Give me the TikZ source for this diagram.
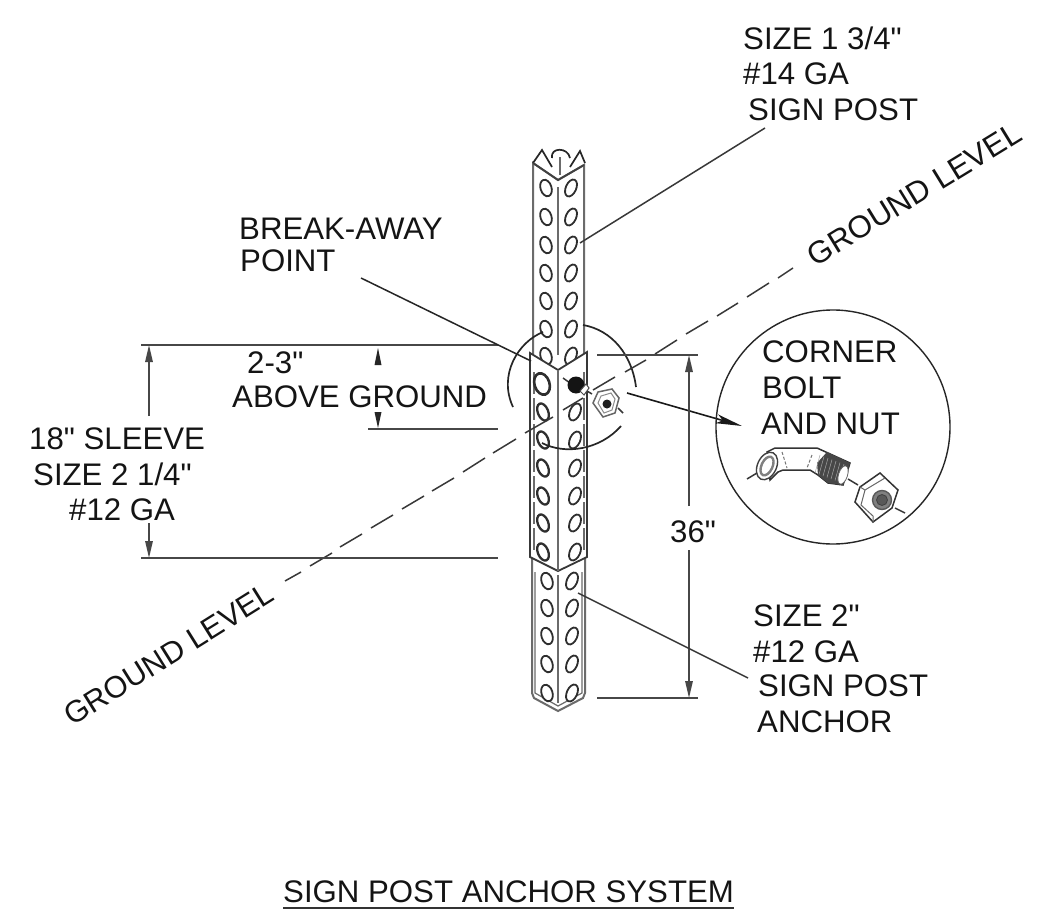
\documentclass[tikz,border=0pt]{standalone}
\usepackage{fontspec}
\newfontfamily\lblfont{Liberation Sans}
\usetikzlibrary{arrows.meta}
\tikzset{
 lbl/.style={font=\lblfont\fontsize{31.2}{35}\selectfont,text=black!92,inner sep=0pt,anchor=west,align=left},
 thin line/.style={draw=black!78,line width=1.5pt},
 post/.style={draw=black!58,line width=2pt},
 hole/.style={draw=black!82,line width=1.8pt,fill=white},
 arc line/.style={draw=black!85,line width=1.7pt},
 dim/.style={draw=black!72,line width=1.5pt},
 tip/.style={-{Stealth[inset=0pt,length=17pt,width=7.5pt]}},
}
\newcommand{\holeL}[2]{\draw[hole] (#1,#2) ellipse[x radius=5.5pt,y radius=8.5pt,rotate=18];}
\newcommand{\holeR}[2]{\draw[hole] (#1,#2) ellipse[x radius=5.2pt,y radius=9pt,rotate=-24];}
\begin{document}
\begin{tikzpicture}[x=1pt,y=-1pt]
\useasboundingbox (0,0) rectangle (1038,923);
\fill[white] (0,0) rectangle (1038,923);
% upper post
\draw[post] (533,355)--(533,163)--(558,180)--(584,165)--(584,355);
\draw[post] (558,187)--(558,355);
\draw[post,draw=black!85,line width=1.7pt] (533,163)--(542,150)--(552,167) (585,163)--(580,151)--(570,167);
\draw[post,draw=black!85,line width=1.7pt] (552,158) .. controls (550,147) and (568,147) .. (570,158);
\draw[post,line width=1.5pt] (560,157)--(560,175);
\draw[post,draw=black!75,line width=1.8pt] (533,163)--(558,180)--(584,165);
\foreach \y in {188,217,245,273,301,329,356}{\holeL{546}{\y}\holeR{571}{\y}}
% lower post
\draw[post] (532,556)--(532,693)--(534,698)--(558,711)--(583,698)--(585,693)--(585,556);
\draw[post,line width=1.2pt] (535,572)--(535,693)--(558,706)--(582,693)--(582,572);
\draw[post] (558,575)--(558,703);
\foreach \y in {581,608,636,664,693}{\holeL{547}{\y}\holeR{572}{\y}}
% sleeve
\fill[white] (530,353)--(558,370)--(587,352)--(587,557)--(558,571)--(530,557)--cycle;
\draw[draw=black!78,line width=1.8pt] (530,557)--(530,353)--(558,370)--(587,352)--(587,557)--(558,571)--cycle;
\draw[post,line width=1.6pt,dash pattern=on 22pt off 4pt] (534,372)--(534,553);
\draw[post,line width=1.6pt,dash pattern=on 22pt off 4pt] (584,372)--(584,553);
\draw[post] (558,370)--(558,571);
\draw[hole,line width=2.6pt] (542,384) ellipse[x radius=7.5pt,y radius=11pt,rotate=18];
\foreach \y in {412,440,468,496,523,552}{\draw[hole,line width=2.3pt] (543,\y) ellipse[x radius=5.2pt,y radius=9pt,rotate=22];}
\foreach \y in {412,440,468,496,523,552}{\holeR{575}{\y}}
% break circle arcs
\draw[arc line] (543,332) .. controls (518,342) and (498,375) .. (513,407);
\draw[arc line] (583,325) .. controls (612,330) and (632,355) .. (636,387);
\draw[arc line] (542,443) .. controls (565,455) and (600,450) .. (621,426);
% ground line dashes
\foreach \a/\b/\c/\d in {285/581/301/572,310/566/332/553,340/547/362/534,371/528/393/515,402/509/424/496,432/491/454/478,463/472/485/458,493/453/516/439,525/433/553/417,563/410/583/398,593/390/615/377,625/372/646/360,655/354/677/340,686/334/708/321,717/316/738/303,747/297/769/283,778/278/793/268}{
 \draw[thin line] (\a,\b)--(\c,\d);}
% bolt
\draw[thin line] (563,378)--(570,383) (587,391)--(592,394);
\fill[black!92] (576,385) circle[radius=8.5pt];
\draw[black!70,fill=white,line width=1pt] (580,391)--(586,384)--(589,388)--(584,395)--cycle;
% nut
\draw[black!60,fill=white,line width=1.5pt] (593,403)--(598,392)--(612,389)--(619,398)--(615,413)--(603,417)--cycle;
\draw[black!45,line width=1pt] (598,403)--(601,396)--(611,393)--(615,399)--(612,410)--(604,413)--cycle;
\fill[black!88] (607,404) circle[radius=4.5pt];
\draw[thin line] (618,408)--(623,413);
% big arrow
\coordinate (arrStart) at (627,393);
\draw[black!90,line width=1.6pt,-{Stealth[inset=6pt,length=26pt,width=9pt]}] (arrStart)--(742,426);
% detail circle
\draw[black!85,line width=1.4pt] (833,427) circle[radius=117pt];
\node[lbl] at (762,352) {CORNER};
\node[lbl] at (762,388) {BOLT};
\node[lbl] at (761,424) {AND NUT};
% detail elbow
\draw[black!80,line width=1.5pt,fill=white] (767,452)--(775,448)--(817,448)--(828,453)--(850,463)--(843,485)--(828,483)--(818,475)--(810,470)--(783,470)--(778,472)--(770,480)--cycle;
\draw[black!55,line width=1pt,dash pattern=on 3pt off 2pt] (782,452)--(787,468) (812,455)--(807,468);
\draw[thin line] (747,479)--(757,473);
\draw[black!75,line width=1.4pt,fill=white] (767,466) ellipse[x radius=9.5pt,y radius=14.5pt,rotate=-25];
\draw[black!50,line width=2.4pt] (767,466) ellipse[x radius=5.5pt,y radius=10pt,rotate=-25];
\fill[black!72] (827,452)--(850,463)--(843,485)--(828,483)--(818,475)--(817,463)--cycle;
\foreach \i in {0,...,6}{\draw[black!35,line width=.5pt] ({820+\i*4},{455+\i*1.5})--({815+\i*4},{473+\i*1.5});}
\draw[fill=white,draw=black!60,line width=.8pt] (843,475) ellipse[x radius=4.5pt,y radius=9.5pt,rotate=-18];
\draw[thin line] (848,479)--(858,485);
\draw[thin line] (895,508)--(905,513);
% detail nut
\draw[black!80,line width=1.5pt,fill=white] (860,487)--(880,473)--(898,490)--(892,508)--(873,522)--(855,502)--cycle;
\draw[black!60,line width=1pt] (860,487)--(865,490)--(885,478) (865,490)--(861,505)--(873,516)--(873,522);
\draw[black!65,fill=black!50,line width=1.4pt] (882,500) circle[radius=9.5pt];
\draw[black!75,fill=black!65,line width=.8pt] (882,500) circle[radius=5.5pt];
% dimensions left
\draw[dim] (141,345)--(498,345);
\draw[dim] (141,558)--(498,558);
\draw[dim] (368,429)--(498,429);
\draw[dim,tip] (149,416)--(149,345);
\draw[dim,tip] (149,523)--(149,558);
\fill[black!85] (378,348)--(374.5,365)--(381.5,365)--cycle;
\fill[black!85] (378,428)--(374.5,412)--(381.5,412)--cycle;
\node[lbl] at (247,363) {2-3"};
\node[lbl] at (232,397) {ABOVE GROUND};
\node[lbl] at (29,439) {18" SLEEVE};
\node[lbl] at (33,474) {SIZE 2 1/4"};
\node[lbl] at (69,510) {\#12 GA};
% dimension right
\draw[dim] (597,355)--(698,355);
\draw[dim] (597,698)--(698,698);
\draw[dim,tip] (689,506)--(689,355);
\draw[dim,tip] (689,550)--(689,698);
\node[lbl] at (670,532) {36"};
% labels
\node[lbl] at (743,38) {SIZE 1 3/4"};
\node[lbl] at (743,74) {\#14 GA};
\node[lbl] at (748,110) {SIGN POST};
\draw[thin line] (765,128)--(580,243);
\node[lbl] at (239,229) {BREAK-AWAY};
\node[lbl] at (240,261) {POINT};
\draw[thin line,draw=black!85] (361,278)--(531,361);
\node[lbl] at (753,616) {SIZE 2"};
\node[lbl] at (753,652) {\#12 GA};
\node[lbl] at (758,686) {SIGN POST};
\node[lbl] at (757,722) {ANCHOR};
\draw[thin line] (578,593)--(748,678);
\node[lbl,rotate=31.5] at (810,258) {GROUND LEVEL};
\node[lbl,rotate=32,font=\lblfont\fontsize{30.6}{35}\selectfont] at (67,718) {GROUND LEVEL};
\node[lbl] (title) at (283,892) {SIGN POST ANCHOR SYSTEM};
\draw[black!80,line width=1.5pt] (283,908)--(734,908);
\end{tikzpicture}
\end{document}
